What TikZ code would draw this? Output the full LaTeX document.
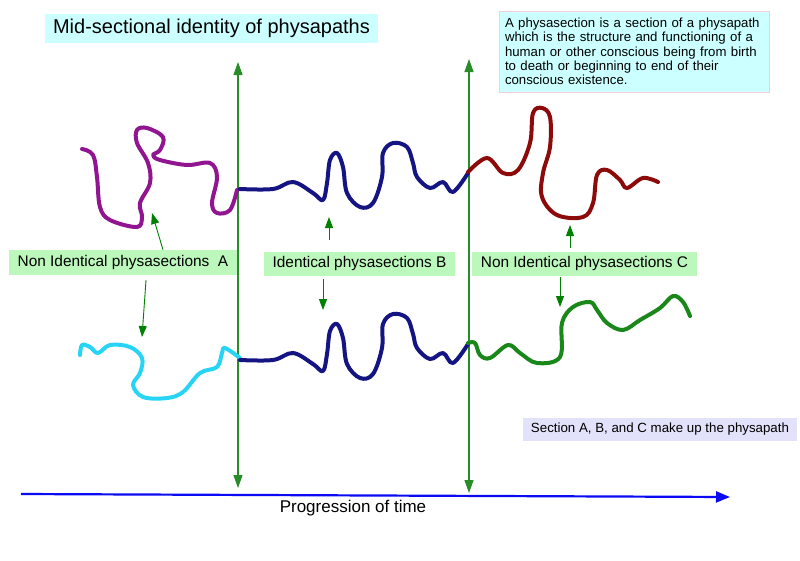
\documentclass[tikz,border=0pt]{standalone}
\usepackage{fontspec}
\setmainfont{Liberation Sans}
\usetikzlibrary{arrows.meta}
\definecolor{boxcyan}{RGB}{204,255,255}
\definecolor{boxpink}{RGB}{250,205,215}
\definecolor{labelgreen}{RGB}{188,247,188}
\definecolor{notelilac}{RGB}{226,226,250}
\definecolor{arrowgreen}{RGB}{0,128,0}
\definecolor{bargreen}{RGB}{40,140,40}
\definecolor{strandpurple}{RGB}{145,20,145}
\definecolor{strandnavy}{RGB}{20,20,130}
\definecolor{strandred}{RGB}{140,10,10}
\definecolor{strandcyan}{RGB}{40,212,245}
\definecolor{strandgreen}{RGB}{25,135,25}
\definecolor{timeblue}{RGB}{10,10,245}
\newcommand\midstrand{%
\draw[strand,strandnavy] plot[smooth,tension=0.6] coordinates {(240,189) (273,189) (293,182) (313,193) (323,200) (327,183) (330,160) (337,153) (343,167) (347,193) (360,207) (373,203) (382,177) (383,153) (393,143) (407,147) (413,163) (417,177) (430,188) (443,182) (453,192) (468,173)};}

\begin{document}
\begin{tikzpicture}[x=1pt,y=-1pt,
  lbl/.style={fill=labelgreen,inner sep=0pt,font=\fontsize{15.4}{18}\selectfont},
  pointer/.style={draw=arrowgreen,line width=0.9pt,-{Triangle[length=11pt,width=8pt]}},
  bar/.style={draw=bargreen,line width=1.1pt,{Triangle[length=13pt,width=9pt]}-{Triangle[length=13pt,width=9pt]}},
  strand/.style={line width=4pt,line cap=round,line join=round}]
\useasboundingbox (0,0) rectangle (800,560);

\node[fill=boxcyan,minimum width=333pt,minimum height=29pt,inner sep=0pt,font=\fontsize{20}{24}\selectfont] (title) at (211.5,28.5) {Mid-sectional identity of physapaths};
\node[fill=boxcyan,draw=boxpink,line width=0.6pt,minimum width=270pt,minimum height=81pt,text width=258pt,align=left,inner sep=0pt,font=\fontsize{13.2}{14.3}\selectfont] (defn) at (634,51.5) {A physasection is a section of a physapath\\which is the structure and functioning of a\\human or other conscious being from birth\\to death or beginning to end of their\\conscious existence.};

\coordinate (top1) at (238,62);
\coordinate (bot1) at (238,488);
\coordinate (top2) at (469,59);
\coordinate (bot2) at (469,493);
\draw[bar] (bot1) -- (top1);
\draw[bar] (bot2) -- (top2);

\draw[strand,strandpurple] plot[smooth,tension=0.6] coordinates {(82,149) (93,155) (97,177) (100,207) (110,220) (137,227) (142,217) (140,203) (150,183) (148,163) (137,143) (137,130) (147,128) (163,137) (160,150) (153,155) (160,160) (187,165) (210,163) (217,177) (212,203) (217,213) (230,210) (237,190)};
\midstrand
\draw[strand,strandred] plot[smooth,tension=0.6] coordinates {(468,172) (487,158) (503,173) (518,170) (530,143) (533,113) (542,108) (550,117) (550,147) (543,173) (542,197) (557,215) (583,217) (593,203) (597,175) (607,170) (620,180) (627,188) (643,178) (658,182)};

\draw[strand,strandcyan] plot[smooth,tension=0.6] coordinates {(80,355) (82,345) (90,347) (98,353) (110,345) (130,347) (142,358) (140,373) (133,385) (143,397) (167,398) (183,392) (200,373) (217,367) (222,353) (225,348) (240,358)};
\begin{scope}[shift={(0,171)}]
\midstrand
\end{scope}
\draw[strand,strandgreen] plot[smooth,tension=0.6] coordinates {(468,343) (475,343) (480,355) (490,358) (508,345) (520,353) (537,363) (560,357) (562,323) (573,307) (590,302) (597,310) (607,323) (623,330) (640,320) (660,308) (673,296) (683,302) (690,316)};

\node[lbl,minimum width=228pt,minimum height=25pt] (secA) at (123,262.5) {Non Identical physasections~ A};
\node[lbl,minimum width=191pt,minimum height=24pt] (secB) at (359.5,264) {Identical physasections B};
\node[lbl,minimum width=225pt,minimum height=24pt] (secC) at (584.5,264) {Non Identical physasections C};

\coordinate (tipAup) at (152,213);
\coordinate (tipAdn) at (142,337);
\coordinate (tipBup) at (329,217);
\coordinate (tipBdn) at (323,310);
\coordinate (tipCup) at (570,225);
\coordinate (tipCdn) at (560,307);
\draw[pointer] ([xshift=40pt]secA.north) -- (tipAup);
\draw[pointer] ([xshift=23pt,yshift=-5pt]secA.south) -- (tipAdn);
\draw[pointer] ([xshift=-30.5pt,yshift=12pt]secB.north) -- (tipBup);
\draw[pointer] ([xshift=-36.5pt,yshift=-3pt]secB.south) -- (tipBdn);
\draw[pointer] ([xshift=-14.5pt,yshift=4pt]secC.north) -- (tipCup);
\draw[pointer] ([xshift=-24.5pt,yshift=-1pt]secC.south) -- (tipCdn);

\node[fill=notelilac,minimum width=274pt,minimum height=23pt,inner sep=0pt,font=\fontsize{13.3}{16}\selectfont] (note) at (660,429.5) {Section A, B, and C make up the physapath};

\coordinate (tstart) at (21,494);
\coordinate (tend) at (730,497);
\draw[timeblue,line width=2.2pt,-{Triangle[length=14pt,width=11pt]}] (tstart) -- (tend);
\node[font=\fontsize{17}{20}\selectfont] (time) at (353,508) {Progression of time};
\end{tikzpicture}
\end{document}
